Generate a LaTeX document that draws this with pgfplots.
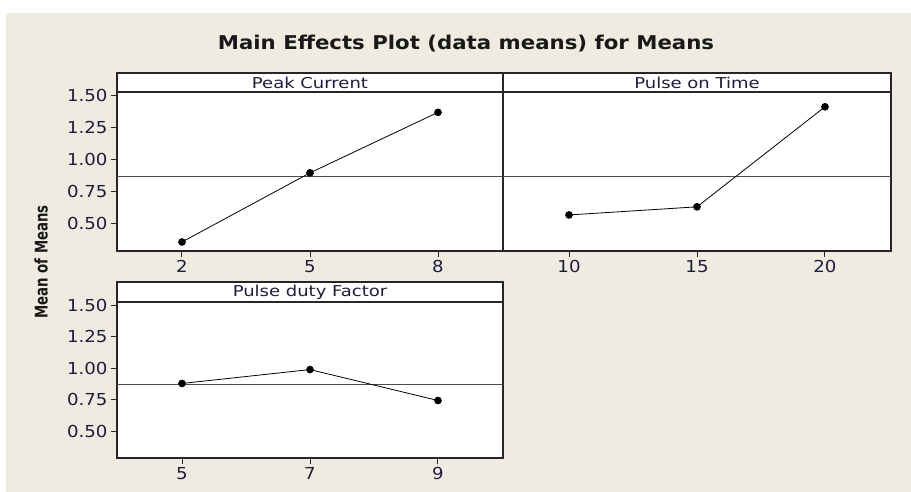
\documentclass[border=0pt]{standalone}
\usepackage{fontspec}
\setmainfont{DejaVu Sans}
\newfontfamily\condfont[FakeStretch=0.76]{DejaVu Sans}
\newfontfamily\tickfont[FakeStretch=1.1]{DejaVu Sans}
\newfontfamily\stripfont[FakeStretch=1.2]{DejaVu Sans}
\newfontfamily\titlefont[FakeStretch=1.12]{DejaVu Sans}
\usepackage{pgfplots}
\pgfplotsset{compat=1.18}
\definecolor{bg}{RGB}{239,235,225}
\definecolor{tk}{RGB}{30,30,60}
\pgfplotsset{
  me/.style={
    scale only axis,
    axis background/.style={fill=white},
    axis line style={line width=1.3pt, black!85},
    tick style={line width=1pt, black!85},
    tick align=outside,
    major tick length=6pt,
    xtick pos=lower, ytick pos=left,
    ymin=0.29, ymax=1.525,
    ytick={0.5,0.75,1,1.25,1.5},
    yticklabel style={/pgf/number format/.cd, fixed, fixed zerofill, precision=2},
    tick label style={font=\tickfont\fontsize{16.5}{19}\selectfont, text=tk},
    /pgf/number format/assume math mode=true,
    clip=false,
  },
  grand/.style={black!70, line width=0.9pt},
  dat/.style={black, line width=0.8pt, mark=*, mark size=3.4pt, mark options={fill=black}},
}
\begin{document}
\begin{tikzpicture}[x=1pt,y=1pt]
\useasboundingbox (0,0) rectangle (911,492);
\fill[white] (0,0) rectangle (911,492);
\fill[bg] (6,0) rectangle (911,479);

% Panel 1: Peak Current
\begin{axis}[me, at={(117pt,241pt)}, anchor=south west, width=386pt, height=159pt,
  xmin=0.477, xmax=9.523, xtick={2,5,8}]
  \addplot[grand] coordinates {(0.477,0.87) (9.523,0.87)};
  \addplot[dat] coordinates {(2,0.36) (5,0.897) (8,1.367)};
\end{axis}

% Panel 2: Pulse on Time
\begin{axis}[me, at={(503pt,241pt)}, anchor=south west, width=388pt, height=159pt,
  xmin=7.42, xmax=22.58, xtick={10,15,20}, ytick=\empty]
  \addplot[grand] coordinates {(7.42,0.87) (22.58,0.87)};
  \addplot[dat] coordinates {(10,0.57) (15,0.633) (20,1.41)};
\end{axis}

% Panel 3: Pulse duty Factor
\begin{axis}[me, at={(117pt,34pt)}, anchor=south west, width=386pt, height=156pt,
  xmin=3.984, xmax=10.016, xtick={5,7,9}]
  \addplot[grand] coordinates {(3.984,0.87) (10.016,0.87)};
  \addplot[dat] coordinates {(5,0.88) (7,0.99) (9,0.745)};
\end{axis}

% strips
\draw[line width=1.3pt, black!85, fill=white] (117,400) rectangle (503,419);
\draw[line width=1.3pt, black!85, fill=white] (503,400) rectangle (891,419);
\draw[line width=1.3pt, black!85, fill=white] (117,190) rectangle (503,210);
\node[text=tk, font=\stripfont\fontsize{15}{17}\selectfont] at (310,409.5) {Peak Current};
\node[text=tk, font=\stripfont\fontsize{15}{17}\selectfont] at (697,409.5) {Pulse on Time};
\node[text=tk, font=\stripfont\fontsize{15}{17}\selectfont] at (310,200) {Pulse duty Factor};

% title and y label
\node[font=\titlefont\bfseries\fontsize{19}{22}\selectfont, text=black!90] at (466,448) {Main Effects Plot (data means) for Means};
\node[font=\condfont\bfseries\fontsize{17.5}{20}\selectfont, text=black!90, rotate=90] at (41,230) {Mean of Means};
\end{tikzpicture}
\end{document}
